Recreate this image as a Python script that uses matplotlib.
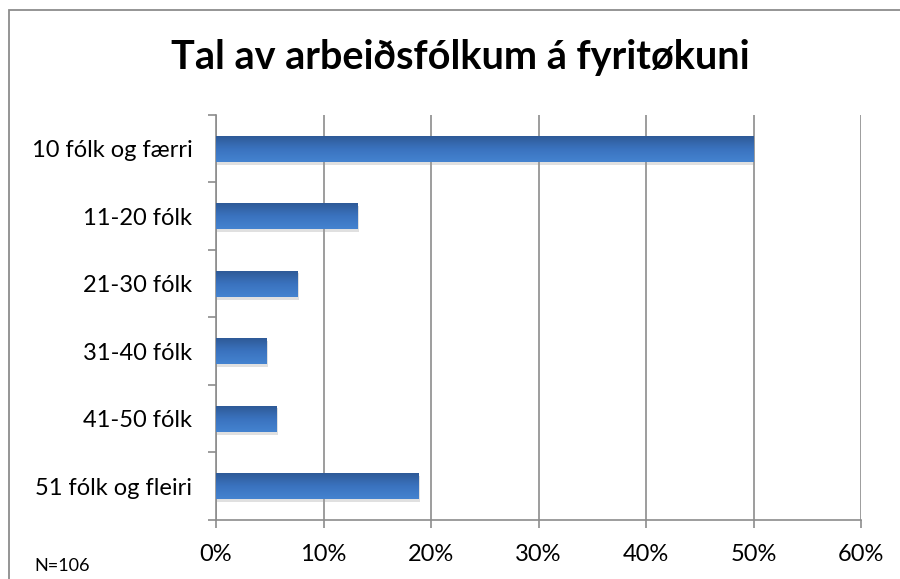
import matplotlib.pyplot as plt
import numpy as np
from matplotlib.patches import Rectangle
from matplotlib.ticker import FuncFormatter, FixedLocator
from matplotlib.colors import LinearSegmentedColormap
import matplotlib.patheffects as pe

plt.rcParams['font.family'] = ['Lato', 'DejaVu Sans']

categories = ['10 fólk og færri', '11-20 fólk', '21-30 fólk', '31-40 fólk',
              '41-50 fólk', '51 fólk og fleiri']
counts = [53, 14, 8, 5, 6, 20]
total = 106
shares = [c / total for c in counts]

title = 'Tal av arbeiðsfólkum á fyritøkuni'
note = 'N=106'

fig = plt.figure(figsize=(9, 5.79), dpi=100)
ax = fig.add_axes([0.24, 0.1019, 0.7167, 0.6995])

y = np.arange(len(categories))
bars = ax.barh(y, shares, height=0.39, color='#3A72BE', zorder=3,
               path_effects=[pe.SimplePatchShadow(offset=(1, -2), shadow_rgbFace='#999999', alpha=0.3),
                             pe.Normal()])

# vertical gradient on each bar
grad = np.linspace(0, 1, 64).reshape(-1, 1)
cmap = LinearSegmentedColormap.from_list('bar', ['#4483D0', '#3A72BE', '#2D5894'])
for b in bars:
    x0, y0 = b.get_x(), b.get_y()
    w, h = b.get_width(), b.get_height()
    im = ax.imshow(grad, cmap=cmap, aspect='auto', extent=[x0, x0 + w, y0, y0 + h],
                   origin='upper', zorder=4)
    im.set_clip_path(b)

ax.set_ylim(len(categories) - 0.5, -0.5)
ax.set_xlim(0, 0.6)
ax.set_xticks(np.arange(0, 0.61, 0.1))
ax.xaxis.set_major_formatter(FuncFormatter(lambda v, p: f'{v*100:.0f}%'))

ax.yaxis.set_major_locator(FixedLocator(np.arange(-0.5, len(categories), 1)))
ax.yaxis.set_minor_locator(FixedLocator(y))
ax.set_yticklabels([])
ax.set_yticklabels(categories, minor=True)
ax.tick_params(axis='y', which='minor', length=0, pad=17, labelsize=17)
ax.tick_params(axis='y', which='major', length=6, width=1.2, color='#8c8c8c')
ax.tick_params(axis='x', length=6, width=1.2, color='#8c8c8c', pad=11, labelsize=17)

ax.grid(axis='x', color='#8c8c8c', linewidth=1.2, zorder=0)
ax.set_axisbelow(True)
for s in ['top', 'right']:
    ax.spines[s].set_visible(False)
for s in ['left', 'bottom']:
    ax.spines[s].set_color('#8c8c8c')
    ax.spines[s].set_linewidth(1.2)

fig.text(0.511, 0.90, title, ha='center', va='center', fontsize=28.5, fontweight='bold')
fig.text(0.038, 0.008, note, ha='left', va='bottom', fontsize=13)

fig.patches.append(Rectangle((0.01, -0.1), 1.2, 1.0827, transform=fig.transFigure,
                             fill=False, edgecolor='#8c8c8c', linewidth=1.3))

fig.savefig('out.png', dpi=100)
